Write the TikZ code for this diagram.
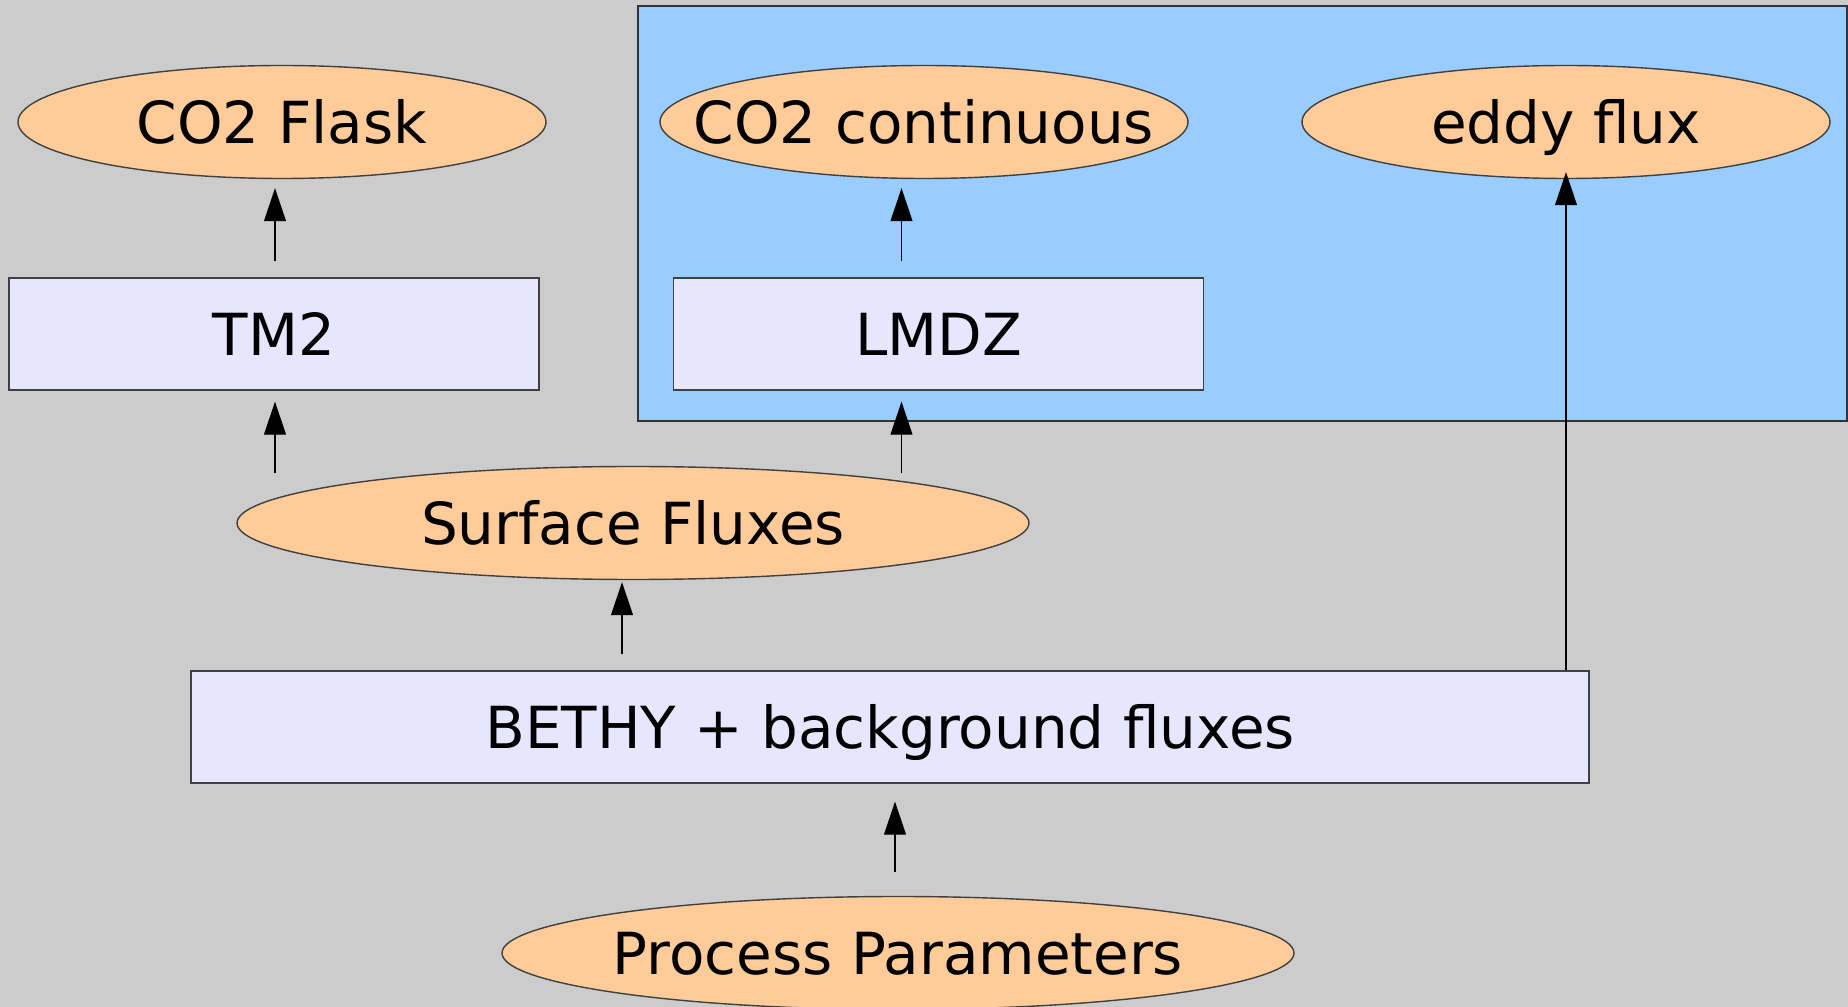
\documentclass[tikz,border=0pt]{standalone}
\usepackage{fontspec}
\setmainfont{DejaVu Sans}
\usepackage{tikz}
\usetikzlibrary{shapes.geometric,arrows.meta}
\definecolor{bggray}{HTML}{CCCCCC}
\definecolor{regionblue}{HTML}{99CCFF}
\definecolor{obsorange}{HTML}{FFCC99}
\definecolor{modellilac}{HTML}{E6E6FF}

\begin{document}
\begin{tikzpicture}[x=0.1mm, y=-0.1mm,
        font=\fontsize{16.5}{20}\selectfont,
        model/.style={draw=black!75, line width=0.4pt, fill=modellilac, minimum width=#1,
            minimum height=11.2mm, inner sep=0pt, text height=12pt, text depth=0pt},
        obs/.style={ellipse, draw=black!75, line width=0.4pt, fill=obsorange, minimum width=#1,
            minimum height=11.3mm, inner sep=0pt, text height=12pt, text depth=0pt},
        flow/.style={-{Triangle[length=3.3mm, width=2.2mm]}, line width=0.3pt}]
        \useasboundingbox[fill=bggray] (0, 0) rectangle (1848, 1007);
        \draw[fill=regionblue, draw=black!80, line width=0.4pt] (638, 6) rectangle (1847, 421);
        \node[obs=52.8mm] (flask) at (282, 122) {\makebox[0pt]{CO2 Flask}};
        \node[obs=52.8mm] (co2c) at (924, 122) {\makebox[0pt]{CO2 continuous}};
        \node[obs=52.8mm] (eddy) at (1566, 122) {\makebox[0pt]{eddy flux}};
        \node[model=53mm] (tm2) at (274, 334) {TM2};
        \node[model=53mm] (lmdz) at (938.5, 334) {LMDZ};
        \node[obs=79.2mm] (surf) at (633, 523) {\makebox[0pt]{Surface Fluxes}};
        \node[model=139.8mm] (bethy) at (890, 727) {BETHY + background fluxes};
        \node[obs=79.2mm] (proc) at (898, 953) {\makebox[0pt]{Process Parameters}};
        \draw[flow, shorten <=1.6mm, shorten >=0.9mm] ([xshift=0.1mm]tm2.north) -- ([xshift=0.1mm]tm2.north |- flask.south);
        \draw[flow, shorten <=-0.7mm, shorten >=1.1mm] ([xshift=0.1mm]tm2.south |- surf.north) -- ([xshift=0.1mm]tm2.south);
        \draw[flow, shorten <=-0.7mm, shorten >=1.1mm] ([xshift=-3.7mm]lmdz.south |- surf.north) -- ([xshift=-3.7mm]lmdz.south);
        \draw[flow, shorten <=1.6mm, shorten >=0.9mm] ([xshift=-3.7mm]lmdz.north) -- ([xshift=-3.7mm]lmdz.north |- co2c.south);
        \draw[flow, shorten <=1.6mm, shorten >=0.2mm] ([xshift=-1.1mm]surf.south |- bethy.north) -- ([xshift=-1.1mm]surf.south);
        \draw[flow, shorten <=2.4mm, shorten >=1.8mm] ([xshift=0.5mm]bethy.south |- proc.north) -- ([xshift=0.5mm]bethy.south);
        \draw[flow, shorten >=-0.7mm] (eddy.south |- bethy.north) -- (eddy.south);
    \end{tikzpicture}
\end{document}
